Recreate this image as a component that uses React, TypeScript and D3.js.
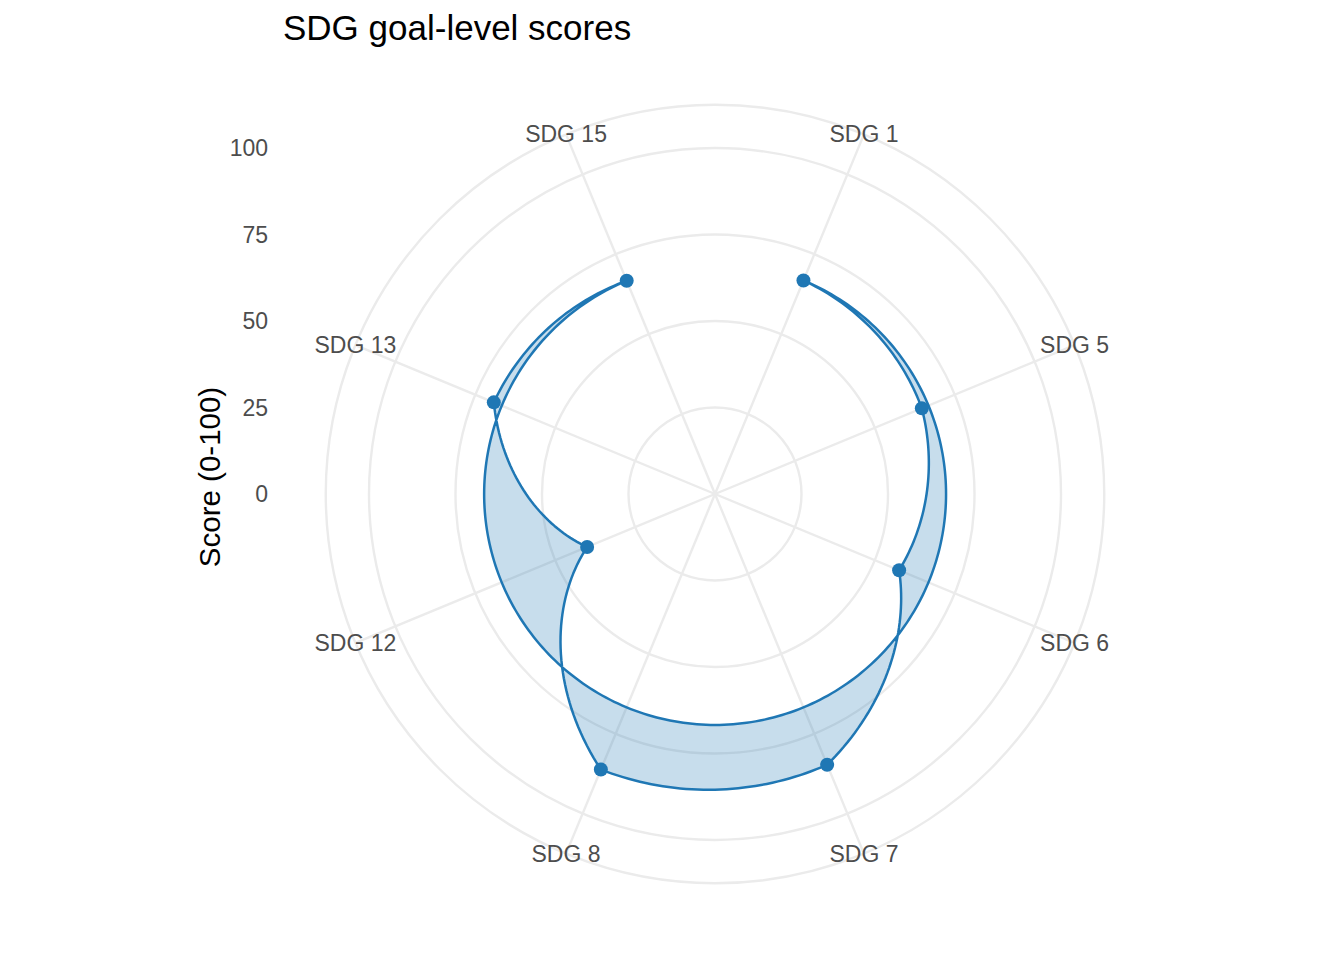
import { useEffect, useRef } from "react";
import * as d3 from "d3";

const goals = ["SDG 1", "SDG 5", "SDG 6", "SDG 7", "SDG 8", "SDG 12", "SDG 13", "SDG 15"];
const scores = [66.8, 64.7, 57.6, 84.7, 86.2, 40.0, 69.2, 66.7];
const scoreTicks = [0, 25, 50, 75, 100];

export default function App() {
  const svgRef = useRef<SVGSVGElement>(null);

  useEffect(() => {
    if (!svgRef.current) return;
    d3.select(svgRef.current).selectAll("*").remove();

    const width = 1344;
    const height = 960;
    const cx = 715;
    const cy = 494;
    const rMax = 346; // radius of 100
    const rOuter = (rMax / 0.4) * 0.45;
    const blue = "#1F77B4";
    const font = "'Liberation Sans', Arial, Helvetica, sans-serif";

    const svg = d3.select(svgRef.current)
      .attr("width", width)
      .attr("height", height)
      .attr("viewBox", `0 0 ${width} ${height}`)
      .style("font-family", font)
      .style("background", "#fff");

    const n = goals.length;
    // discrete x positions 1..n around the full circle
    const theta = d3.scaleLinear().domain([0.5, n + 0.5]).range([0, 2 * Math.PI]);
    const r = d3.scaleLinear().domain([0, 100]).range([0, rMax]);

    const g = svg.append("g").attr("transform", `translate(${cx},${cy})`);

    // Grid circles
    const rings = [...scoreTicks.filter(t => t > 0).map(t => r(t)), rOuter];
    g.selectAll(".ring")
      .data(rings)
      .enter().append("circle")
      .attr("r", d => d)
      .attr("fill", "none")
      .attr("stroke", "#EBEBEB")
      .attr("stroke-width", 2.4);

    // Spokes
    g.selectAll(".spoke")
      .data(goals)
      .enter().append("line")
      .attr("x1", 0)
      .attr("y1", 0)
      .attr("x2", (_, i) => rOuter * Math.sin(theta(i + 1)))
      .attr("y2", (_, i) => -rOuter * Math.cos(theta(i + 1)))
      .attr("stroke", "#EBEBEB")
      .attr("stroke-width", 2.4);

    // Polygon, interpolated in (x, y) data space like coord_polar does
    const verts = scores.map((v, i) => ({ x: i + 1, y: v }));
    verts.push({ x: 1, y: scores[0] });
    const munched: { x: number; y: number }[] = [];
    for (let k = 0; k < verts.length - 1; k++) {
      const a = verts[k];
      const b = verts[k + 1];
      const steps = Math.max(10, Math.round(Math.abs(b.x - a.x) * 40));
      for (let s = 0; s < steps; s++) {
        const t = s / steps;
        munched.push({ x: a.x + (b.x - a.x) * t, y: a.y + (b.y - a.y) * t });
      }
    }
    munched.push(verts[verts.length - 1]);

    const radial = d3.lineRadial<{ x: number; y: number }>()
      .angle(d => theta(d.x))
      .radius(d => r(d.y));

    g.append("path")
      .attr("d", radial(munched) + "Z")
      .attr("fill", blue)
      .attr("fill-opacity", 0.25)
      .attr("fill-rule", "evenodd")
      .attr("stroke", blue)
      .attr("stroke-width", 2.5)
      .attr("stroke-linejoin", "round");

    // Points
    g.selectAll(".pt")
      .data(scores)
      .enter().append("circle")
      .attr("cx", (d, i) => r(d) * Math.sin(theta(i + 1)))
      .attr("cy", (d, i) => -r(d) * Math.cos(theta(i + 1)))
      .attr("r", 7)
      .attr("fill", blue);

    // Goal labels
    g.selectAll(".lab")
      .data(goals)
      .enter().append("text")
      .attr("x", (_, i) => rOuter * Math.sin(theta(i + 1)))
      .attr("y", (_, i) => -rOuter * Math.cos(theta(i + 1)))
      .attr("text-anchor", "middle")
      .attr("dy", "0.35em")
      .style("font-size", "23px")
      .style("fill", "#4D4D4D")
      .text(d => d);

    // Radial axis labels
    svg.selectAll(".tick")
      .data(scoreTicks)
      .enter().append("text")
      .attr("x", 268)
      .attr("y", d => cy - r(d))
      .attr("dy", "0.35em")
      .attr("text-anchor", "end")
      .style("font-size", "23px")
      .style("fill", "#4D4D4D")
      .text(d => d);

    // Axis title
    svg.append("text")
      .attr("transform", `translate(220, 477) rotate(-90)`)
      .attr("text-anchor", "middle")
      .style("font-size", "29.5px")
      .style("fill", "#000")
      .text("Score (0-100)");

    // Title
    svg.append("text")
      .attr("x", 283)
      .attr("y", 40)
      .style("font-size", "35px")
      .style("fill", "#000")
      .text("SDG goal-level scores");
  }, []);

  return (
    <svg ref={svgRef} style={{ position: "absolute", left: 0, top: 0, display: "block" }}></svg>
  );
}
